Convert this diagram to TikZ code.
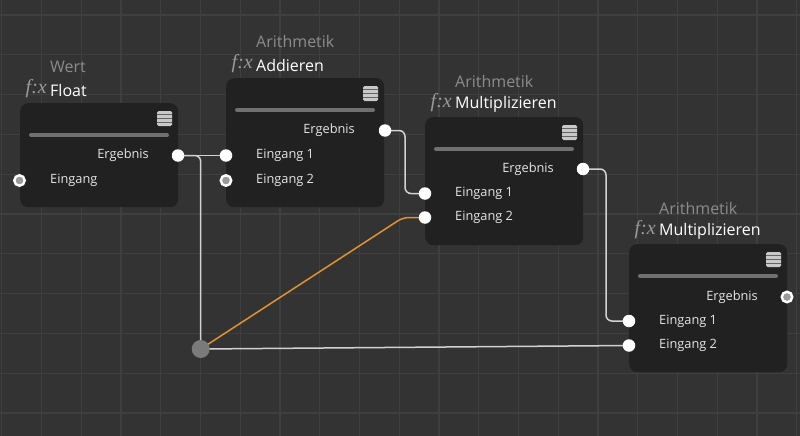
\documentclass[tikz,border=0pt]{standalone}
\usepackage{fontspec}
\setmainfont{Open Sans}
\newfontfamily\fxfont{Liberation Serif}
\usetikzlibrary{calc}
\definecolor{bgc}{HTML}{333333}
\definecolor{gridc}{HTML}{3F3F3F}
\definecolor{boxc}{HTML}{212121}
\definecolor{barc}{HTML}{707070}
\definecolor{iconc}{HTML}{C8C8C8}
\definecolor{wirec}{HTML}{D2D2D2}
\definecolor{orangec}{HTML}{E3932E}
\definecolor{portg}{HTML}{9A9A9A}
\definecolor{catc}{HTML}{8C8C8C}
\definecolor{labc}{HTML}{E6E6E6}
\definecolor{fxc}{HTML}{9A9A9A}
\definecolor{dotc}{HTML}{7A7A7A}
\pgfdeclarelayer{bg}
\pgfdeclarelayer{wires}
\pgfsetlayers{bg,wires,main}
\tikzset{
  box/.style={fill=boxc, rounded corners=8pt, inner sep=0, minimum width=158pt, anchor=north west},
  port/.style={circle, fill=white, inner sep=0, minimum size=12.5pt},
  portoff/.style={circle, fill=portg, draw=white, line width=2.4pt, inner sep=0, minimum size=10.5pt},
  plabel/.style={font=\fontsize{12.8}{14}\selectfont, text=labc, inner sep=0},
  cat/.style={font=\fontsize{16}{18}\selectfont, text=catc, inner sep=0, anchor=west},
  ttl/.style={font=\fontsize{16}{18}\selectfont, text=white, inner sep=0, anchor=west},
  fx/.style={font=\fxfont\itshape\fontsize{20}{22}\selectfont, text=fxc, inner sep=0, anchor=east},
  hbar/.style={draw=barc, line width=4pt, line cap=round},
  icon/.style={fill=iconc, rounded corners=1.5pt},
  wire/.style={draw=wirec, line width=1.5pt, rounded corners=6pt},
  owire/.style={draw=orangec, line width=1.5pt, rounded corners=6pt},
  jdot/.style={circle, fill=dotc, inner sep=0, minimum size=18pt}
}
% node block: #1 name, #2 left, #3 top, #4 height, #5 category, #6 title
\newcommand{\nodeblock}[6]{%
  \node[box, minimum height=#4pt] (#1) at (#2,#3) {};
  \node[cat] (#1cat) at (#2+30,#3-36) {#5};
  \node[ttl] (#1ttl) at (#2+30,#3-12.5) {#6};
  \node[fx] (#1fx) at (#2+27,#3-14) {f:x};
  \draw[hbar] (#2+11,#3+32) -- (#2+147,#3+32);
  \fill[icon] (#2+137,#3+8) rectangle (#2+152,#3+23);
  \foreach \k in {1,2,3}{\fill[boxc!60!iconc] (#2+137,#3+8+3.75*\k-0.6) rectangle (#2+152,#3+8+3.75*\k+0.6);}
}
\begin{document}
\begin{tikzpicture}[x=1pt,y=-1pt]
\useasboundingbox (0,0) rectangle (800,436);
\begin{pgfonlayer}{bg}
\fill[bgc] (0,0) rectangle (800,436);
\foreach \i in {0,...,20}{\draw[gridc, line width=1.2pt] (1.7+39.75*\i,0) -- (1.7+39.75*\i,436);}
\foreach \j in {0,...,10}{\draw[gridc, line width=1.2pt] (0,15+39.8*\j) -- (800,15+39.8*\j);}
\end{pgfonlayer}

% Float
\nodeblock{fl}{20}{103}{104}{Wert}{Float}
\node[plabel, anchor=east] (flEl) at (149,155.5) {Ergebnis};
\node[plabel, anchor=west] (flIl) at (50,180.5) {Eingang};
\node[port] (flE) at (178,155.5) {};
\node[portoff] (flI) at (19.5,180.5) {};

% Addieren
\nodeblock{ad}{226}{78}{129}{Arithmetik}{Addieren}
\node[plabel, anchor=east] (adEl) at (355,130.5) {Ergebnis};
\node[plabel, anchor=west] (ad1l) at (256,155.5) {Eingang 1};
\node[plabel, anchor=west] (ad2l) at (256,180.5) {Eingang 2};
\node[port] (adE) at (385,130.5) {};
\node[port] (ad1) at (226,155.5) {};
\node[portoff] (ad2) at (226,180.5) {};

% Multiplizieren 1
\nodeblock{ma}{425}{117}{128}{Arithmetik}{Multiplizieren}
\node[plabel, anchor=east] (maEl) at (554,169) {Ergebnis};
\node[plabel, anchor=west] (ma1l) at (455,193.5) {Eingang 1};
\node[plabel, anchor=west] (ma2l) at (455,217.5) {Eingang 2};
\node[port] (maE) at (583,169) {};
\node[port] (ma1) at (425,193.5) {};
\node[port] (ma2) at (425,217.5) {};

% Multiplizieren 2
\nodeblock{mb}{629}{244}{128}{Arithmetik}{Multiplizieren}
\node[plabel, anchor=east] (mbEl) at (758,297) {Ergebnis};
\node[plabel, anchor=west] (mb1l) at (659,321) {Eingang 1};
\node[plabel, anchor=west] (mb2l) at (659,345.5) {Eingang 2};
\node[portoff] (mbE) at (787,297) {};
\node[port] (mb1) at (629,321) {};
\node[port] (mb2) at (629,345.5) {};

% junction
\node[jdot] (jn) at (200.7,349) {};

\begin{pgfonlayer}{wires}
\draw[wire] (flE.center) -- (ad1.center);
\draw[wire] (flE.center) -| (jn.center);
\draw[wire] (adE.center) -| ($(adE)!0.5!(ma1)$) |- (ma1.center);
\draw[owire] (jn.center) -- ([xshift=-22pt]ma2.center) -- (ma2.center);
\draw[wire] (jn.center) -- (mb2.center);
\draw[wire] (maE.center) -| ($(maE)!0.5!(mb1)$) |- (mb1.center);
\end{pgfonlayer}
\end{tikzpicture}
\end{document}
